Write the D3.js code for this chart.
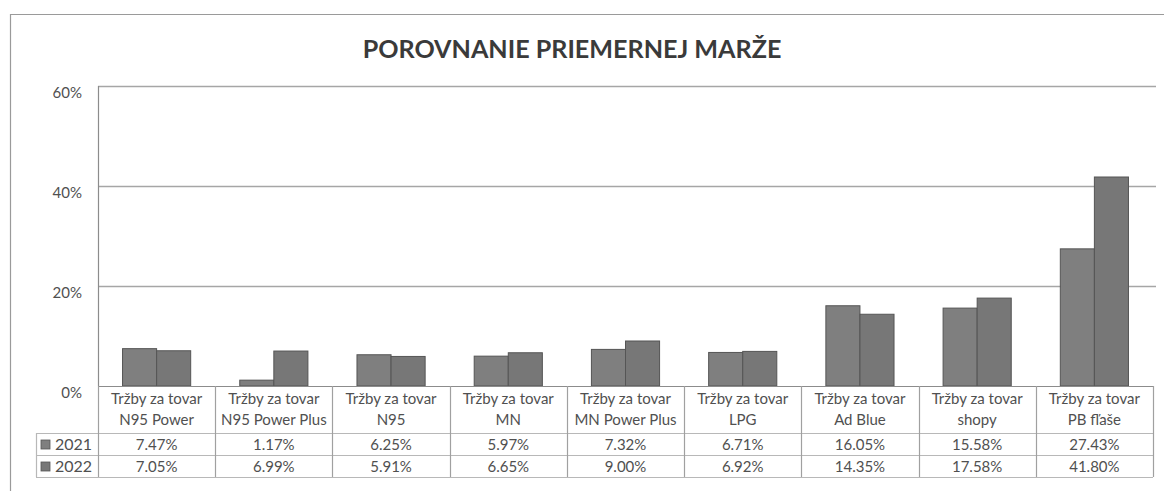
<!DOCTYPE html>
<html><head><meta charset="utf-8">
<script src="https://cdn.jsdelivr.net/npm/d3@7"></script>
<style>body{margin:0;background:#fff}svg{display:block}</style>
</head><body>
<svg id="c" width="1164" height="491"></svg>
<script>
const title = "POROVNANIE PRIEMERNEJ MARŽE";
const catLine1 = ["Tržby za tovar","Tržby za tovar","Tržby za tovar","Tržby za tovar","Tržby za tovar","Tržby za tovar","Tržby za tovar","Tržby za tovar","Tržby za tovar"];
const catLine2 = ["N95 Power","N95 Power Plus","N95","MN","MN Power Plus","LPG","Ad Blue","shopy","PB fľaše"];
const seriesNames = ["2021","2022"];
const values2021 = [7.47,1.17,6.25,5.97,7.32,6.71,16.05,15.58,27.43];
const values2022 = [7.05,6.99,5.91,6.65,9.00,6.92,14.35,17.58,41.80];
const yTicks = [0,20,40,60];

const seriesVals = [values2021, values2022];
const colors = ["#7f7f7f","#777777"];
const svg = d3.select("#c");
const font = "Lato, 'Open Sans', sans-serif";
const txt = "#505050";
const fs = 15;

// outer frame
svg.append("path").attr("d","M10.5,491 V14.5 H1164").attr("fill","none").attr("stroke","#9a9a9a").attr("stroke-width",1.2);

// title
const t = svg.append("text").attr("x",572).attr("y",58).attr("text-anchor","middle")
  .attr("font-family",font).attr("font-weight","bold").attr("font-size",26).attr("fill","#3a3a3a").text(title);
const w = t.node().getBBox().width;
t.attr("font-size", 26*419/w);

const L=98, R=1153, T=86, B=386;
const y = d3.scaleLinear().domain([0,60]).range([B,T]);
const x0 = d3.scaleBand().domain(catLine2).range([L,R]).padding(0);
const x1 = d3.scaleBand().domain(seriesNames).range([0,x0.bandwidth()]).paddingInner(0).paddingOuter(0.72);

// gridlines
svg.append("g").selectAll("line").data(yTicks.filter(d=>d>0)).join("line")
  .attr("x1",L).attr("x2",R+3).attr("y1",d=>Math.round(y(d))+0.5).attr("y2",d=>Math.round(y(d))+0.5)
  .attr("stroke","#a6a6a6").attr("stroke-width",1.3);

// y axis
const yAxis = d3.axisLeft(y).tickValues(yTicks).tickFormat(d=>d+"%").tickSize(0).tickPadding(16);
const ga = svg.append("g").attr("transform",`translate(${L},0)`).call(yAxis);
ga.select(".domain").remove();
ga.selectAll("text").attr("font-family",font).attr("font-size",fs).attr("fill",txt).attr("dy","0.75em");
svg.append("line").attr("x1",L+0.5).attr("x2",L+0.5).attr("y1",T).attr("y2",B).attr("stroke","#8c8c8c").attr("stroke-width",1.2);

// bars
const g = svg.append("g");
catLine2.forEach((c,i)=>{
  seriesNames.forEach((s,j)=>{
    const v = seriesVals[j][i];
    g.append("rect").attr("x",x0(c)+x1(s)).attr("y",y(v)).attr("width",x1.bandwidth()).attr("height",B-y(v))
      .attr("fill",colors[j]).attr("stroke","#555").attr("stroke-width",1);
  });
});

// data table
const lineCol = "#b8b8b8";
svg.append("line").attr("x1",L).attr("x2",R).attr("y1",B+0.5).attr("y2",B+0.5).attr("stroke","#8c8c8c").attr("stroke-width",1.2);
[433,455,477].forEach(yy=>{
  svg.append("line").attr("x1",36).attr("x2",R).attr("y1",yy+0.5).attr("y2",yy+0.5).attr("stroke",lineCol).attr("stroke-width",1.2);
});
const edges = catLine2.map(c=>x0(c)).concat([R]);
edges.forEach(xx=>{
  svg.append("line").attr("x1",Math.round(xx)+0.5).attr("x2",Math.round(xx)+0.5).attr("y1",B).attr("y2",477)
    .attr("stroke","#a0a0a0").attr("stroke-width",1.2);
});
svg.append("line").attr("x1",36.5).attr("x2",36.5).attr("y1",433).attr("y2",477).attr("stroke",lineCol).attr("stroke-width",1.2);

catLine2.forEach((c,i)=>{
  const cx = x0(c)+x0.bandwidth()/2;
  svg.append("text").attr("x",cx).attr("y",404).attr("text-anchor","middle").attr("font-family",font).attr("font-size",fs).attr("fill",txt).text(catLine1[i]);
  svg.append("text").attr("x",cx).attr("y",425).attr("text-anchor","middle").attr("font-family",font).attr("font-size",fs).attr("fill",txt).text(c);
  seriesNames.forEach((s,j)=>{
    svg.append("text").attr("x",cx).attr("y",[450,472][j]).attr("text-anchor","middle").attr("font-family",font).attr("font-size",fs).attr("fill",txt)
      .text(d3.format(".2f")(seriesVals[j][i])+"%");
  });
});
seriesNames.forEach((s,j)=>{
  const yy=[444,466][j];
  svg.append("rect").attr("x",41).attr("y",yy-4).attr("width",9).attr("height",9).attr("fill",colors[j]).attr("stroke","#555").attr("stroke-width",0.8);
  svg.append("text").attr("x",55).attr("y",yy+6).attr("font-family",font).attr("font-size",fs+1).attr("fill",txt).text(s);
});
</script>
</body></html>
